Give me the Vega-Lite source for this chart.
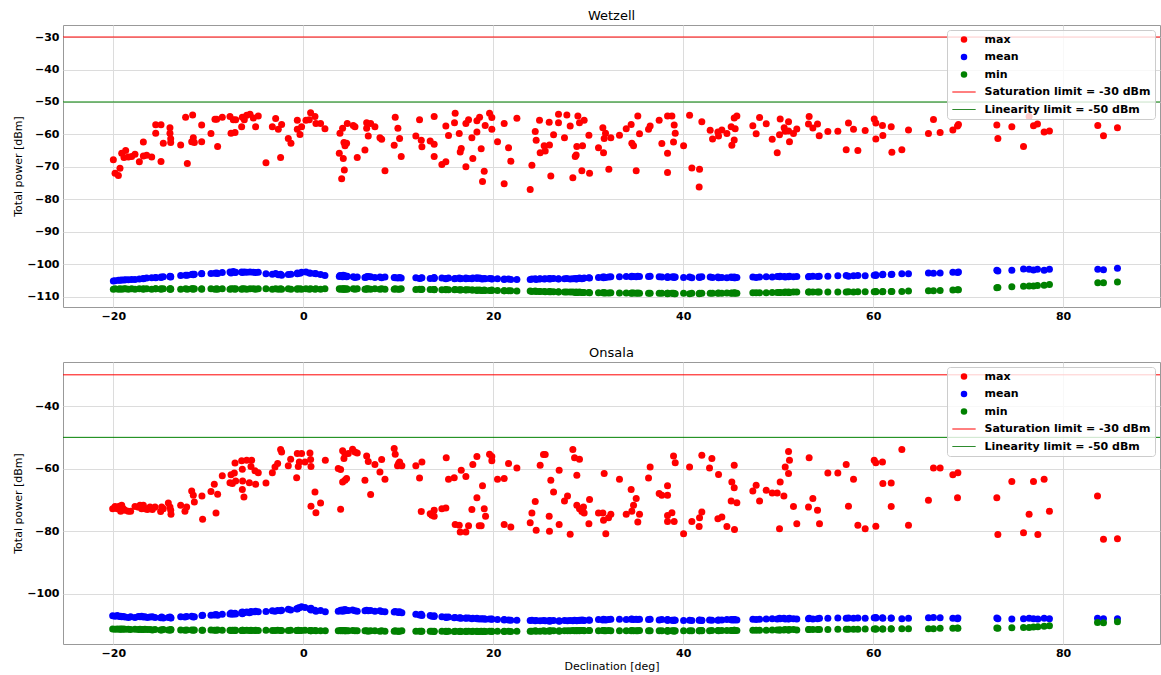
{
"$schema": "https://vega.github.io/schema/vega-lite/v6.json",
"background": "white",
"padding": {"left": 12, "top": 9, "right": 0, "bottom": 0},
"config": {
 "font": "DejaVu Sans",
 "view": {"stroke": "#999999", "strokeWidth": 1},
 "axis": {"labelFont": "DejaVu Sans", "labelFontSize": 11, "labelFontWeight": "bold", "labelColor": "black", "titleFont": "DejaVu Sans", "titleFontSize": 11, "titleFontWeight": "normal", "titleColor": "black", "gridColor": "#dcdcdc", "gridWidth": 1, "domain": false, "ticks": false, "labelPadding": 4, "labelOverlap": false},
 "title": {"font": "DejaVu Sans", "fontSize": 13, "fontWeight": "normal", "color": "black", "offset": 2},
 "legend": {"orient": "none", "legendX": 884, "legendY": 5, "fillColor": "rgba(255,255,255,0.8)", "strokeColor": "#cccccc", "cornerRadius": 3, "padding": 4, "labelFont": "DejaVu Sans", "labelFontSize": 11, "labelFontWeight": "bold", "labelColor": "black", "labelLimit": 400, "symbolSize": 42, "symbolStrokeWidth": 1, "symbolOffset": 7.5, "labelOffset": 15, "rowPadding": 5.5, "symbolOpacity": 1},
 "concat": {"spacing": 24}
},
"datasets": {
"limits": [{"series": "Saturation limit = -30 dBm", "value": -30}, {"series": "Linearity limit = -50 dBm", "value": -50}],
"wetzell": [
{"dec":-20.0,"max":-67.8,"mean":-105.1,"min":-107.6},
{"dec":-19.82,"max":-71.9,"mean":-105.0,"min":-107.5},
{"dec":-19.47,"max":-72.6,"mean":-104.9,"min":-107.6},
{"dec":-19.3,"max":-70.4,"mean":-104.9,"min":-107.5},
{"dec":-19.12,"max":-65.8,"mean":-104.8,"min":-107.6},
{"dec":-18.88,"max":-67.1,"mean":-104.8,"min":-107.5},
{"dec":-18.7,"max":-64.9,"mean":-104.7,"min":-107.5},
{"dec":-18.42,"max":-66.9,"mean":-104.7,"min":-107.6},
{"dec":-18.07,"max":-66.8,"mean":-104.6,"min":-107.5},
{"dec":-17.72,"max":-66.1,"mean":-104.6,"min":-107.6},
{"dec":-17.26,"max":-68.4,"mean":-104.5,"min":-107.5},
{"dec":-16.84,"max":-62.3,"mean":-104.3,"min":-107.6},
{"dec":-16.84,"max":-66.6,"mean":-104.4,"min":-107.5},
{"dec":-16.49,"max":-66.4,"mean":-104.2,"min":-107.5},
{"dec":-15.96,"max":-66.9,"mean":-104.1,"min":-107.6},
{"dec":-15.54,"max":-57.0,"mean":-104.0,"min":-107.5},
{"dec":-15.54,"max":-59.6,"mean":-104.1,"min":-107.5},
{"dec":-14.98,"max":-57.0,"mean":-103.9,"min":-107.6},
{"dec":-14.98,"max":-68.3,"mean":-104.0,"min":-107.5},
{"dec":-14.74,"max":-62.7,"mean":-103.8,"min":-107.5},
{"dec":-14.04,"max":-57.9,"mean":-103.8,"min":-107.6},
{"dec":-14.04,"max":-59.6,"mean":-103.6,"min":-107.5},
{"dec":-13.96,"max":-61.3,"mean":-103.7,"min":-107.6},
{"dec":-13.96,"max":-62.5,"mean":-103.9,"min":-107.5},
{"dec":-12.91,"max":-63.2,"mean":-103.4,"min":-107.6},
{"dec":-12.39,"max":-54.7,"mean":-103.3,"min":-107.5},
{"dec":-12.21,"max":-68.9,"mean":-103.3,"min":-107.6},
{"dec":-11.75,"max":-62.2,"mean":-103.1,"min":-107.5},
{"dec":-11.65,"max":-54.0,"mean":-103.0,"min":-107.5},
{"dec":-11.58,"max":-61.0,"mean":-103.2,"min":-107.6},
{"dec":-11.47,"max":-62.5,"mean":-103.0,"min":-107.5},
{"dec":-10.7,"max":-57.1,"mean":-102.9,"min":-107.6},
{"dec":-10.7,"max":-62.2,"mean":-102.8,"min":-107.5},
{"dec":-9.72,"max":-59.7,"mean":-102.8,"min":-107.5},
{"dec":-9.3,"max":-55.3,"mean":-102.7,"min":-107.6},
{"dec":-9.12,"max":-55.3,"mean":-102.6,"min":-107.5},
{"dec":-9.02,"max":-63.7,"mean":-102.8,"min":-107.6},
{"dec":-8.53,"max":-54.7,"mean":-102.5,"min":-107.5},
{"dec":-7.72,"max":-54.5,"mean":-102.3,"min":-107.6},
{"dec":-7.61,"max":-59.6,"mean":-102.6,"min":-107.5},
{"dec":-7.37,"max":-55.5,"mean":-102.2,"min":-107.5},
{"dec":-7.19,"max":-59.4,"mean":-102.5,"min":-107.6},
{"dec":-7.12,"max":-55.5,"mean":-102.4,"min":-107.5},
{"dec":-6.49,"max":-57.6,"mean":-102.3,"min":-107.6},
{"dec":-6.42,"max":-54.7,"mean":-102.5,"min":-107.5},
{"dec":-6.21,"max":-55.5,"mean":-102.3,"min":-107.5},
{"dec":-5.96,"max":-54.1,"mean":-102.4,"min":-107.6},
{"dec":-5.61,"max":-53.8,"mean":-102.3,"min":-107.5},
{"dec":-5.26,"max":-54.9,"mean":-102.4,"min":-107.5},
{"dec":-5.02,"max":-57.6,"mean":-102.5,"min":-107.6},
{"dec":-4.74,"max":-54.3,"mean":-102.4,"min":-107.5},
{"dec":-3.93,"max":-68.7,"mean":-102.9,"min":-107.5},
{"dec":-3.26,"max":-57.6,"mean":-103.0,"min":-107.6},
{"dec":-2.91,"max":-55.1,"mean":-102.8,"min":-107.5},
{"dec":-2.63,"max":-58.4,"mean":-103.2,"min":-107.6},
{"dec":-2.39,"max":-67.1,"mean":-103.0,"min":-107.5},
{"dec":-2.28,"max":-56.9,"mean":-103.3,"min":-107.6},
{"dec":-1.58,"max":-61.2,"mean":-103.1,"min":-107.5},
{"dec":-1.3,"max":-62.7,"mean":-103.0,"min":-107.6},
{"dec":-0.63,"max":-55.6,"mean":-102.9,"min":-107.5},
{"dec":-0.63,"max":-58.4,"mean":-102.6,"min":-107.6},
{"dec":-0.35,"max":-60.0,"mean":-102.7,"min":-107.5},
{"dec":-0.18,"max":-57.6,"mean":-102.4,"min":-107.6},
{"dec":0.28,"max":-55.6,"mean":-102.3,"min":-107.5},
{"dec":0.63,"max":-55.5,"mean":-102.6,"min":-107.6},
{"dec":0.77,"max":-53.3,"mean":-102.7,"min":-107.5},
{"dec":1.23,"max":-54.5,"mean":-102.8,"min":-107.6},
{"dec":1.33,"max":-56.6,"mean":-102.9,"min":-107.5},
{"dec":1.82,"max":-56.6,"mean":-103.1,"min":-107.6},
{"dec":2.28,"max":-58.2,"mean":-103.4,"min":-107.5},
{"dec":3.79,"max":-65.8,"mean":-103.7,"min":-107.5},
{"dec":3.86,"max":-59.6,"mean":-103.4,"min":-107.6},
{"dec":4.04,"max":-73.6,"mean":-103.5,"min":-107.5},
{"dec":4.14,"max":-58.1,"mean":-103.8,"min":-107.6},
{"dec":4.21,"max":-67.4,"mean":-103.3,"min":-107.5},
{"dec":4.28,"max":-62.5,"mean":-103.6,"min":-107.6},
{"dec":4.32,"max":-70.9,"mean":-103.7,"min":-107.5},
{"dec":4.39,"max":-63.5,"mean":-103.5,"min":-107.6},
{"dec":4.56,"max":-62.7,"mean":-103.8,"min":-107.5},
{"dec":4.63,"max":-56.6,"mean":-103.6,"min":-107.6},
{"dec":5.26,"max":-57.2,"mean":-103.8,"min":-107.5},
{"dec":5.44,"max":-57.6,"mean":-104.0,"min":-107.6},
{"dec":5.68,"max":-67.1,"mean":-103.9,"min":-107.5},
{"dec":6.49,"max":-64.8,"mean":-104.0,"min":-107.6},
{"dec":6.67,"max":-56.4,"mean":-103.8,"min":-107.5},
{"dec":6.67,"max":-58.1,"mean":-103.9,"min":-107.6},
{"dec":6.84,"max":-60.5,"mean":-103.7,"min":-107.5},
{"dec":7.09,"max":-56.6,"mean":-103.8,"min":-107.6},
{"dec":7.54,"max":-57.6,"mean":-104.0,"min":-107.5},
{"dec":8.07,"max":-61.0,"mean":-103.9,"min":-107.6},
{"dec":8.25,"max":-61.5,"mean":-104.1,"min":-107.5},
{"dec":8.6,"max":-71.2,"mean":-103.9,"min":-107.6},
{"dec":9.57,"max":-63.3,"mean":-104.0,"min":-107.6},
{"dec":9.68,"max":-54.7,"mean":-104.1,"min":-107.5},
{"dec":9.96,"max":-58.1,"mean":-104.2,"min":-107.6},
{"dec":10.14,"max":-61.2,"mean":-104.0,"min":-107.6},
{"dec":10.31,"max":-66.8,"mean":-104.2,"min":-107.5},
{"dec":11.85,"max":-60.5,"mean":-104.1,"min":-107.7},
{"dec":12.24,"max":-55.5,"mean":-104.3,"min":-107.6},
{"dec":12.42,"max":-61.8,"mean":-104.2,"min":-107.7},
{"dec":12.49,"max":-63.8,"mean":-104.1,"min":-107.6},
{"dec":13.36,"max":-62.0,"mean":-104.3,"min":-107.7},
{"dec":13.78,"max":-63.0,"mean":-104.2,"min":-107.7},
{"dec":13.78,"max":-54.5,"mean":-104.0,"min":-107.8},
{"dec":13.78,"max":-66.8,"mean":-104.3,"min":-107.7},
{"dec":14.59,"max":-69.2,"mean":-104.2,"min":-107.8},
{"dec":15.01,"max":-68.4,"mean":-104.4,"min":-107.7},
{"dec":15.01,"max":-57.4,"mean":-104.3,"min":-107.8},
{"dec":15.29,"max":-60.3,"mean":-104.2,"min":-107.8},
{"dec":15.99,"max":-53.5,"mean":-104.3,"min":-107.7},
{"dec":15.92,"max":-56.4,"mean":-104.4,"min":-107.8},
{"dec":16.42,"max":-59.7,"mean":-104.2,"min":-107.8},
{"dec":16.52,"max":-65.4,"mean":-104.4,"min":-107.9},
{"dec":16.63,"max":-64.3,"mean":-104.3,"min":-107.8},
{"dec":17.12,"max":-69.9,"mean":-104.4,"min":-107.8},
{"dec":17.12,"max":-56.6,"mean":-104.2,"min":-107.9},
{"dec":17.4,"max":-55.5,"mean":-104.3,"min":-107.8},
{"dec":17.75,"max":-61.0,"mean":-104.4,"min":-107.9},
{"dec":17.85,"max":-67.4,"mean":-104.2,"min":-107.9},
{"dec":18.28,"max":-55.8,"mean":-104.1,"min":-107.9},
{"dec":18.28,"max":-59.2,"mean":-104.3,"min":-108.0},
{"dec":18.56,"max":-54.7,"mean":-104.2,"min":-107.9},
{"dec":18.73,"max":-64.4,"mean":-104.4,"min":-108.0},
{"dec":19.05,"max":-71.3,"mean":-104.3,"min":-107.9},
{"dec":18.87,"max":-74.5,"mean":-104.5,"min":-108.0},
{"dec":19.15,"max":-57.2,"mean":-104.4,"min":-108.0},
{"dec":19.61,"max":-53.5,"mean":-104.3,"min":-108.0},
{"dec":19.85,"max":-54.8,"mean":-104.4,"min":-108.0},
{"dec":19.85,"max":-58.4,"mean":-104.5,"min":-107.9},
{"dec":20.45,"max":-62.2,"mean":-104.4,"min":-108.0},
{"dec":21.15,"max":-56.6,"mean":-104.5,"min":-108.1},
{"dec":21.15,"max":-75.2,"mean":-104.6,"min":-108.1},
{"dec":21.61,"max":-64.1,"mean":-104.5,"min":-108.1},
{"dec":21.85,"max":-68.2,"mean":-104.6,"min":-108.1},
{"dec":22.49,"max":-55.0,"mean":-104.6,"min":-108.2},
{"dec":23.89,"max":-76.9,"mean":-104.6,"min":-108.2},
{"dec":24.07,"max":-69.5,"mean":-104.5,"min":-108.3},
{"dec":24.42,"max":-59.1,"mean":-104.4,"min":-108.2},
{"dec":24.52,"max":-61.8,"mean":-104.6,"min":-108.3},
{"dec":24.87,"max":-55.6,"mean":-104.5,"min":-108.3},
{"dec":24.94,"max":-65.6,"mean":-104.4,"min":-108.3},
{"dec":25.36,"max":-63.5,"mean":-104.5,"min":-108.3},
{"dec":25.47,"max":-65.1,"mean":-104.4,"min":-108.4},
{"dec":25.89,"max":-56.2,"mean":-104.3,"min":-108.4},
{"dec":25.92,"max":-63.2,"mean":-104.5,"min":-108.3},
{"dec":26.06,"max":-72.8,"mean":-104.4,"min":-108.4},
{"dec":26.35,"max":-60.1,"mean":-104.3,"min":-108.4},
{"dec":26.87,"max":-53.8,"mean":-104.5,"min":-108.5},
{"dec":26.87,"max":-56.4,"mean":-104.4,"min":-108.4},
{"dec":27.5,"max":-61.0,"mean":-104.4,"min":-108.5},
{"dec":27.75,"max":-54.0,"mean":-104.3,"min":-108.5},
{"dec":28.1,"max":-57.4,"mean":-104.5,"min":-108.5},
{"dec":28.38,"max":-73.3,"mean":-104.4,"min":-108.5},
{"dec":28.63,"max":-66.8,"mean":-104.3,"min":-108.6},
{"dec":28.73,"max":-66.3,"mean":-104.5,"min":-108.5},
{"dec":28.8,"max":-63.7,"mean":-104.4,"min":-108.6},
{"dec":28.91,"max":-54.3,"mean":-104.3,"min":-108.6},
{"dec":29.08,"max":-56.4,"mean":-104.2,"min":-108.5},
{"dec":29.4,"max":-63.5,"mean":-104.3,"min":-108.6},
{"dec":29.33,"max":-71.2,"mean":-104.4,"min":-108.6},
{"dec":29.57,"max":-55.6,"mean":-104.2,"min":-108.6},
{"dec":30.07,"max":-60.2,"mean":-104.1,"min":-108.6},
{"dec":30.14,"max":-71.9,"mean":-104.2,"min":-108.7},
{"dec":31.08,"max":-64.1,"mean":-104.0,"min":-108.7},
{"dec":31.54,"max":-57.9,"mean":-103.9,"min":-108.7},
{"dec":31.61,"max":-65.6,"mean":-104.1,"min":-108.7},
{"dec":31.82,"max":-59.6,"mean":-104.0,"min":-108.8},
{"dec":31.68,"max":-61.2,"mean":-103.9,"min":-108.7},
{"dec":32.17,"max":-70.7,"mean":-103.9,"min":-108.8},
{"dec":32.38,"max":-61.0,"mean":-103.8,"min":-108.7},
{"dec":33.29,"max":-60.2,"mean":-103.8,"min":-108.8},
{"dec":34.0,"max":-58.2,"mean":-103.7,"min":-108.8},
{"dec":34.52,"max":-56.9,"mean":-103.8,"min":-108.9},
{"dec":34.59,"max":-62.7,"mean":-103.6,"min":-108.8},
{"dec":34.77,"max":-63.5,"mean":-103.7,"min":-108.8},
{"dec":35.05,"max":-71.2,"mean":-103.8,"min":-108.9},
{"dec":35.22,"max":-54.3,"mean":-103.6,"min":-108.8},
{"dec":35.4,"max":-59.8,"mean":-103.7,"min":-108.9},
{"dec":36.35,"max":-58.4,"mean":-103.7,"min":-108.9},
{"dec":36.52,"max":-57.4,"mean":-103.6,"min":-108.9},
{"dec":37.47,"max":-55.6,"mean":-103.8,"min":-108.9},
{"dec":37.75,"max":-62.8,"mean":-103.9,"min":-108.9},
{"dec":38.35,"max":-65.8,"mean":-103.8,"min":-109.0},
{"dec":38.35,"max":-54.3,"mean":-103.9,"min":-108.9},
{"dec":38.35,"max":-71.7,"mean":-104.0,"min":-108.9},
{"dec":38.81,"max":-54.3,"mean":-103.9,"min":-108.9},
{"dec":39.05,"max":-57.1,"mean":-104.0,"min":-109.0},
{"dec":38.98,"max":-62.3,"mean":-103.8,"min":-108.9},
{"dec":39.16,"max":-59.6,"mean":-103.9,"min":-109.0},
{"dec":40.04,"max":-63.5,"mean":-104.0,"min":-108.9},
{"dec":40.67,"max":-54.1,"mean":-103.9,"min":-109.0},
{"dec":40.91,"max":-70.3,"mean":-104.1,"min":-108.9},
{"dec":41.72,"max":-70.7,"mean":-104.0,"min":-108.9},
{"dec":41.68,"max":-76.2,"mean":-103.9,"min":-109.0},
{"dec":41.96,"max":-56.1,"mean":-103.8,"min":-108.9},
{"dec":42.84,"max":-58.7,"mean":-103.9,"min":-108.9},
{"dec":43.09,"max":-61.4,"mean":-104.0,"min":-108.9},
{"dec":43.65,"max":-59.2,"mean":-103.9,"min":-108.9},
{"dec":43.72,"max":-60.5,"mean":-104.1,"min":-108.8},
{"dec":44.07,"max":-58.6,"mean":-104.0,"min":-108.9},
{"dec":44.6,"max":-59.7,"mean":-104.1,"min":-108.8},
{"dec":45.05,"max":-57.6,"mean":-103.9,"min":-108.9},
{"dec":45.12,"max":-63.3,"mean":-104.0,"min":-108.8},
{"dec":45.37,"max":-54.9,"mean":-104.1,"min":-108.8},
{"dec":45.65,"max":-54.3,"mean":-104.0,"min":-108.9},
{"dec":45.37,"max":-61.7,"mean":-103.9,"min":-108.8},
{"dec":45.47,"max":-58.2,"mean":-104.1,"min":-108.8},
{"dec":47.33,"max":-57.3,"mean":-103.9,"min":-108.7},
{"dec":47.68,"max":-59.8,"mean":-104.0,"min":-108.7},
{"dec":48.04,"max":-54.8,"mean":-103.9,"min":-108.7},
{"dec":48.74,"max":-56.7,"mean":-103.8,"min":-108.7},
{"dec":49.37,"max":-61.5,"mean":-103.9,"min":-108.6},
{"dec":49.9,"max":-65.6,"mean":-103.7,"min":-108.6},
{"dec":50.14,"max":-60.1,"mean":-103.8,"min":-108.6},
{"dec":50.21,"max":-55.2,"mean":-103.6,"min":-108.6},
{"dec":50.63,"max":-57.9,"mean":-103.7,"min":-108.6},
{"dec":50.74,"max":-59.0,"mean":-103.9,"min":-108.5},
{"dec":51.09,"max":-56.1,"mean":-103.7,"min":-108.6},
{"dec":51.09,"max":-58.9,"mean":-103.8,"min":-108.5},
{"dec":51.19,"max":-62.2,"mean":-103.6,"min":-108.6},
{"dec":51.61,"max":-59.7,"mean":-103.8,"min":-108.5},
{"dec":51.96,"max":-58.3,"mean":-103.7,"min":-108.5},
{"dec":53.26,"max":-54.5,"mean":-103.7,"min":-108.5},
{"dec":53.19,"max":-56.8,"mean":-103.8,"min":-108.5},
{"dec":53.65,"max":-58.0,"mean":-103.6,"min":-108.5},
{"dec":54.14,"max":-56.8,"mean":-103.7,"min":-108.5},
{"dec":54.32,"max":-60.4,"mean":-103.6,"min":-108.5},
{"dec":55.23,"max":-59.1,"mean":-103.6,"min":-108.5},
{"dec":56.28,"max":-59.0,"mean":-103.5,"min":-108.5},
{"dec":57.16,"max":-64.7,"mean":-103.4,"min":-108.5},
{"dec":57.4,"max":-56.5,"mean":-103.6,"min":-108.4},
{"dec":57.93,"max":-58.4,"mean":-103.5,"min":-108.5},
{"dec":58.39,"max":-64.9,"mean":-103.4,"min":-108.4},
{"dec":59.16,"max":-58.8,"mean":-103.5,"min":-108.4},
{"dec":60.11,"max":-55.2,"mean":-103.3,"min":-108.4},
{"dec":60.28,"max":-56.5,"mean":-103.2,"min":-108.4},
{"dec":60.28,"max":-61.4,"mean":-103.4,"min":-108.3},
{"dec":60.98,"max":-57.2,"mean":-103.2,"min":-108.4},
{"dec":61.02,"max":-60.3,"mean":-103.0,"min":-108.3},
{"dec":61.9,"max":-57.6,"mean":-103.1,"min":-108.3},
{"dec":61.97,"max":-65.5,"mean":-103.0,"min":-108.3},
{"dec":63.02,"max":-64.7,"mean":-102.9,"min":-108.3},
{"dec":63.72,"max":-58.6,"mean":-102.9,"min":-108.2},
{"dec":65.82,"max":-59.7,"mean":-102.6,"min":-108.1},
{"dec":66.35,"max":-55.4,"mean":-102.7,"min":-108.1},
{"dec":67.05,"max":-59.4,"mean":-102.6,"min":-108.0},
{"dec":68.39,"max":-58.6,"mean":-102.4,"min":-107.9},
{"dec":68.88,"max":-57.4,"mean":-102.5,"min":-107.8},
{"dec":68.98,"max":-56.9,"mean":-102.3,"min":-107.8},
{"dec":73.02,"max":-57.1,"mean":-101.8,"min":-107.2},
{"dec":73.13,"max":-61.2,"mean":-102.0,"min":-107.1},
{"dec":74.6,"max":-57.6,"mean":-101.8,"min":-106.9},
{"dec":75.83,"max":-63.7,"mean":-101.4,"min":-106.7},
{"dec":76.42,"max":-54.5,"mean":-101.5,"min":-106.6},
{"dec":76.88,"max":-57.3,"mean":-101.7,"min":-106.6},
{"dec":77.3,"max":-56.8,"mean":-101.5,"min":-106.5},
{"dec":78.0,"max":-59.2,"mean":-101.8,"min":-106.4},
{"dec":78.56,"max":-58.9,"mean":-101.5,"min":-106.2},
{"dec":83.65,"max":-57.2,"mean":-101.5,"min":-105.6},
{"dec":84.25,"max":-60.4,"mean":-101.6,"min":-105.6},
{"dec":85.72,"max":-57.9,"mean":-101.2,"min":-105.4}
],
"onsala": [
{"dec":-20.07,"max":-72.8,"mean":-107.1,"min":-111.3},
{"dec":-19.82,"max":-72.1,"mean":-107.2,"min":-111.4},
{"dec":-19.58,"max":-72.8,"mean":-107.0,"min":-111.3},
{"dec":-19.37,"max":-72.0,"mean":-107.3,"min":-111.4},
{"dec":-19.23,"max":-73.6,"mean":-107.2,"min":-111.3},
{"dec":-19.12,"max":-71.7,"mean":-107.4,"min":-111.4},
{"dec":-18.95,"max":-72.8,"mean":-107.3,"min":-111.3},
{"dec":-18.77,"max":-73.3,"mean":-107.5,"min":-111.4},
{"dec":-18.42,"max":-73.6,"mean":-107.6,"min":-111.4},
{"dec":-18.18,"max":-73.6,"mean":-107.4,"min":-111.5},
{"dec":-17.72,"max":-72.1,"mean":-107.6,"min":-111.4},
{"dec":-17.37,"max":-72.3,"mean":-107.3,"min":-111.5},
{"dec":-17.19,"max":-71.7,"mean":-107.4,"min":-111.4},
{"dec":-17.02,"max":-72.8,"mean":-107.2,"min":-111.5},
{"dec":-16.84,"max":-71.7,"mean":-107.5,"min":-111.5},
{"dec":-16.67,"max":-72.8,"mean":-107.4,"min":-111.4},
{"dec":-16.42,"max":-73.1,"mean":-107.6,"min":-111.5},
{"dec":-16.14,"max":-72.3,"mean":-107.5,"min":-111.5},
{"dec":-15.89,"max":-73.1,"mean":-107.4,"min":-111.6},
{"dec":-15.61,"max":-72.3,"mean":-107.6,"min":-111.5},
{"dec":-15.02,"max":-73.7,"mean":-107.7,"min":-111.6},
{"dec":-14.91,"max":-72.3,"mean":-107.5,"min":-111.6},
{"dec":-14.74,"max":-72.8,"mean":-107.8,"min":-111.5},
{"dec":-14.21,"max":-71.0,"mean":-107.6,"min":-111.6},
{"dec":-14.04,"max":-72.3,"mean":-107.5,"min":-111.6},
{"dec":-13.93,"max":-74.6,"mean":-107.8,"min":-111.5},
{"dec":-13.96,"max":-73.3,"mean":-107.7,"min":-111.6},
{"dec":-12.91,"max":-71.7,"mean":-107.4,"min":-111.6},
{"dec":-12.46,"max":-73.6,"mean":-107.5,"min":-111.7},
{"dec":-12.28,"max":-72.3,"mean":-107.3,"min":-111.6},
{"dec":-11.75,"max":-67.2,"mean":-107.2,"min":-111.6},
{"dec":-11.58,"max":-68.5,"mean":-107.5,"min":-111.7},
{"dec":-11.47,"max":-70.7,"mean":-107.4,"min":-111.6},
{"dec":-10.67,"max":-68.8,"mean":-107.0,"min":-111.7},
{"dec":-10.6,"max":-76.2,"mean":-106.9,"min":-111.7},
{"dec":-9.72,"max":-67.3,"mean":-106.9,"min":-111.6},
{"dec":-9.37,"max":-65.0,"mean":-106.8,"min":-111.7},
{"dec":-9.19,"max":-74.2,"mean":-106.7,"min":-111.7},
{"dec":-9.02,"max":-68.2,"mean":-106.9,"min":-111.6},
{"dec":-8.53,"max":-62.3,"mean":-106.6,"min":-111.7},
{"dec":-7.72,"max":-64.5,"mean":-106.5,"min":-111.7},
{"dec":-7.61,"max":-62.0,"mean":-106.2,"min":-111.8},
{"dec":-7.47,"max":-64.8,"mean":-106.6,"min":-111.7},
{"dec":-7.26,"max":-61.4,"mean":-106.4,"min":-111.7},
{"dec":-7.19,"max":-58.2,"mean":-106.3,"min":-111.8},
{"dec":-7.12,"max":-64.0,"mean":-106.5,"min":-111.7},
{"dec":-6.49,"max":-57.5,"mean":-106.0,"min":-111.8},
{"dec":-6.39,"max":-64.0,"mean":-106.2,"min":-111.7},
{"dec":-6.42,"max":-60.2,"mean":-106.4,"min":-111.8},
{"dec":-6.42,"max":-66.7,"mean":-105.9,"min":-111.7},
{"dec":-6.25,"max":-69.1,"mean":-106.1,"min":-111.8},
{"dec":-5.96,"max":-57.3,"mean":-105.9,"min":-111.7},
{"dec":-5.68,"max":-64.5,"mean":-106.1,"min":-111.8},
{"dec":-5.51,"max":-59.3,"mean":-105.7,"min":-111.7},
{"dec":-5.44,"max":-57.3,"mean":-105.9,"min":-111.8},
{"dec":-5.09,"max":-60.7,"mean":-105.8,"min":-111.8},
{"dec":-5.02,"max":-65.0,"mean":-105.6,"min":-111.7},
{"dec":-4.74,"max":-61.3,"mean":-105.8,"min":-111.8},
{"dec":-3.93,"max":-64.6,"mean":-105.7,"min":-111.7},
{"dec":-3.26,"max":-61.3,"mean":-105.5,"min":-111.8},
{"dec":-2.98,"max":-59.5,"mean":-105.6,"min":-111.8},
{"dec":-2.7,"max":-58.4,"mean":-105.4,"min":-111.7},
{"dec":-2.39,"max":-53.9,"mean":-105.5,"min":-111.8},
{"dec":-2.28,"max":-54.7,"mean":-105.3,"min":-111.8},
{"dec":-1.58,"max":-59.1,"mean":-105.0,"min":-111.8},
{"dec":-1.33,"max":-57.0,"mean":-105.2,"min":-111.7},
{"dec":-0.7,"max":-62.9,"mean":-104.8,"min":-111.8},
{"dec":-0.63,"max":-55.2,"mean":-104.9,"min":-111.8},
{"dec":-0.53,"max":-59.3,"mean":-104.6,"min":-111.7},
{"dec":-0.42,"max":-57.9,"mean":-104.5,"min":-111.8},
{"dec":-0.18,"max":-55.2,"mean":-104.2,"min":-111.8},
{"dec":0.18,"max":-57.9,"mean":-104.4,"min":-111.7},
{"dec":0.7,"max":-55.0,"mean":-104.8,"min":-111.8},
{"dec":0.77,"max":-57.1,"mean":-105.0,"min":-111.9},
{"dec":0.81,"max":-59.3,"mean":-104.7,"min":-111.8},
{"dec":0.81,"max":-72.0,"mean":-105.2,"min":-111.9},
{"dec":1.23,"max":-67.5,"mean":-105.3,"min":-111.8},
{"dec":1.33,"max":-74.1,"mean":-105.6,"min":-111.9},
{"dec":1.82,"max":-71.0,"mean":-105.4,"min":-111.9},
{"dec":2.32,"max":-57.3,"mean":-105.8,"min":-111.9},
{"dec":3.68,"max":-60.0,"mean":-105.6,"min":-111.9},
{"dec":3.93,"max":-60.3,"mean":-105.3,"min":-111.8},
{"dec":3.93,"max":-73.0,"mean":-105.5,"min":-111.9},
{"dec":4.14,"max":-54.3,"mean":-105.2,"min":-111.9},
{"dec":4.28,"max":-56.8,"mean":-105.4,"min":-111.8},
{"dec":4.39,"max":-55.4,"mean":-105.1,"min":-111.9},
{"dec":4.56,"max":-63.2,"mean":-105.3,"min":-111.9},
{"dec":4.14,"max":-64.3,"mean":-105.6,"min":-111.8},
{"dec":4.39,"max":-63.7,"mean":-105.5,"min":-111.9},
{"dec":4.74,"max":-55.2,"mean":-105.4,"min":-111.9},
{"dec":5.19,"max":-53.8,"mean":-105.2,"min":-111.8},
{"dec":5.44,"max":-54.7,"mean":-105.5,"min":-111.9},
{"dec":5.68,"max":-55.0,"mean":-105.6,"min":-111.9},
{"dec":6.49,"max":-63.7,"mean":-105.5,"min":-111.9},
{"dec":6.67,"max":-56.0,"mean":-105.3,"min":-111.9},
{"dec":6.84,"max":-57.7,"mean":-105.5,"min":-112.0},
{"dec":7.09,"max":-68.3,"mean":-105.4,"min":-111.9},
{"dec":7.54,"max":-58.7,"mean":-105.6,"min":-111.9},
{"dec":8.07,"max":-61.1,"mean":-105.5,"min":-112.0},
{"dec":8.25,"max":-57.1,"mean":-105.7,"min":-111.9},
{"dec":8.6,"max":-63.4,"mean":-105.8,"min":-112.0},
{"dec":9.57,"max":-53.6,"mean":-105.9,"min":-112.0},
{"dec":9.68,"max":-55.4,"mean":-105.7,"min":-111.9},
{"dec":10.03,"max":-58.4,"mean":-106.0,"min":-112.0},
{"dec":10.14,"max":-57.9,"mean":-105.8,"min":-112.0},
{"dec":10.38,"max":-59.1,"mean":-106.1,"min":-111.9},
{"dec":9.92,"max":-59.1,"mean":-105.9,"min":-112.0},
{"dec":11.85,"max":-59.1,"mean":-106.6,"min":-112.0},
{"dec":12.24,"max":-63.0,"mean":-106.8,"min":-112.0},
{"dec":12.42,"max":-73.7,"mean":-106.6,"min":-112.0},
{"dec":12.49,"max":-57.9,"mean":-107.0,"min":-112.0},
{"dec":13.36,"max":-74.4,"mean":-107.0,"min":-112.0},
{"dec":13.54,"max":-74.9,"mean":-107.2,"min":-112.0},
{"dec":13.78,"max":-73.3,"mean":-107.1,"min":-112.1},
{"dec":13.78,"max":-75.2,"mean":-107.3,"min":-112.0},
{"dec":14.59,"max":-72.8,"mean":-107.4,"min":-112.0},
{"dec":15.01,"max":-72.6,"mean":-107.5,"min":-112.0},
{"dec":15.05,"max":-56.5,"mean":-107.6,"min":-112.1},
{"dec":15.29,"max":-63.4,"mean":-107.5,"min":-112.0},
{"dec":15.89,"max":-62.9,"mean":-107.7,"min":-112.1},
{"dec":15.99,"max":-77.9,"mean":-107.6,"min":-112.0},
{"dec":16.42,"max":-78.1,"mean":-107.8,"min":-112.1},
{"dec":16.52,"max":-80.3,"mean":-107.7,"min":-112.0},
{"dec":16.63,"max":-60.5,"mean":-107.9,"min":-112.1},
{"dec":17.12,"max":-62.5,"mean":-107.8,"min":-112.0},
{"dec":17.12,"max":-80.3,"mean":-107.9,"min":-112.1},
{"dec":17.4,"max":-78.3,"mean":-107.8,"min":-112.0},
{"dec":17.75,"max":-73.1,"mean":-108.0,"min":-112.1},
{"dec":17.85,"max":-58.7,"mean":-107.9,"min":-112.0},
{"dec":18.28,"max":-56.1,"mean":-108.0,"min":-112.1},
{"dec":18.28,"max":-69.3,"mean":-107.9,"min":-112.0},
{"dec":18.52,"max":-78.3,"mean":-108.1,"min":-112.1},
{"dec":18.73,"max":-78.3,"mean":-108.0,"min":-112.0},
{"dec":18.87,"max":-65.5,"mean":-108.1,"min":-112.1},
{"dec":19.05,"max":-72.8,"mean":-108.0,"min":-112.0},
{"dec":19.19,"max":-75.2,"mean":-108.2,"min":-112.1},
{"dec":19.61,"max":-55.4,"mean":-108.1,"min":-112.0},
{"dec":19.85,"max":-57.5,"mean":-108.2,"min":-112.1},
{"dec":19.85,"max":-56.1,"mean":-108.1,"min":-112.0},
{"dec":20.45,"max":-63.4,"mean":-108.3,"min":-112.0},
{"dec":21.15,"max":-63.2,"mean":-108.3,"min":-112.1},
{"dec":21.15,"max":-77.9,"mean":-108.4,"min":-112.0},
{"dec":21.61,"max":-58.4,"mean":-108.4,"min":-112.0},
{"dec":21.85,"max":-78.7,"mean":-108.5,"min":-112.1},
{"dec":22.49,"max":-59.8,"mean":-108.5,"min":-112.0},
{"dec":23.89,"max":-77.3,"mean":-108.6,"min":-112.0},
{"dec":24.07,"max":-74.2,"mean":-108.5,"min":-112.0},
{"dec":24.42,"max":-70.5,"mean":-108.7,"min":-111.9},
{"dec":24.52,"max":-79.7,"mean":-108.6,"min":-112.0},
{"dec":24.94,"max":-58.9,"mean":-108.7,"min":-112.0},
{"dec":25.29,"max":-55.5,"mean":-108.6,"min":-111.9},
{"dec":25.47,"max":-55.5,"mean":-108.7,"min":-112.0},
{"dec":25.89,"max":-75.2,"mean":-108.6,"min":-111.9},
{"dec":25.92,"max":-80.0,"mean":-108.8,"min":-112.0},
{"dec":26.06,"max":-63.7,"mean":-108.7,"min":-111.9},
{"dec":26.35,"max":-67.5,"mean":-108.6,"min":-111.9},
{"dec":26.94,"max":-60.5,"mean":-108.7,"min":-111.9},
{"dec":26.94,"max":-77.9,"mean":-108.8,"min":-112.0},
{"dec":27.5,"max":-70.4,"mean":-108.6,"min":-111.9},
{"dec":27.82,"max":-68.8,"mean":-108.7,"min":-111.9},
{"dec":28.1,"max":-81.0,"mean":-108.6,"min":-111.9},
{"dec":28.38,"max":-53.9,"mean":-108.7,"min":-111.8},
{"dec":28.56,"max":-56.5,"mean":-108.5,"min":-111.9},
{"dec":28.8,"max":-62.1,"mean":-108.6,"min":-111.8},
{"dec":28.8,"max":-71.7,"mean":-108.7,"min":-111.9},
{"dec":29.08,"max":-57.0,"mean":-108.5,"min":-111.8},
{"dec":29.08,"max":-72.8,"mean":-108.6,"min":-111.9},
{"dec":29.33,"max":-73.7,"mean":-108.4,"min":-111.8},
{"dec":29.5,"max":-72.3,"mean":-108.5,"min":-111.8},
{"dec":29.57,"max":-74.2,"mean":-108.6,"min":-111.9},
{"dec":30.07,"max":-77.6,"mean":-108.4,"min":-111.8},
{"dec":30.14,"max":-69.9,"mean":-108.5,"min":-111.8},
{"dec":31.08,"max":-74.2,"mean":-108.3,"min":-111.9},
{"dec":31.54,"max":-74.2,"mean":-108.4,"min":-111.8},
{"dec":31.68,"max":-61.6,"mean":-108.3,"min":-111.9},
{"dec":31.61,"max":-76.5,"mean":-108.2,"min":-111.8},
{"dec":31.85,"max":-80.8,"mean":-108.4,"min":-111.9},
{"dec":32.14,"max":-75.7,"mean":-108.3,"min":-111.8},
{"dec":32.38,"max":-74.6,"mean":-108.2,"min":-111.9},
{"dec":33.29,"max":-63.4,"mean":-108.2,"min":-111.9},
{"dec":34.0,"max":-74.6,"mean":-108.3,"min":-111.9},
{"dec":34.52,"max":-66.7,"mean":-108.2,"min":-111.9},
{"dec":34.59,"max":-73.6,"mean":-108.1,"min":-111.8},
{"dec":34.77,"max":-71.7,"mean":-108.3,"min":-111.9},
{"dec":35.05,"max":-69.6,"mean":-108.2,"min":-111.9},
{"dec":35.22,"max":-77.1,"mean":-108.3,"min":-111.9},
{"dec":35.4,"max":-74.6,"mean":-108.2,"min":-111.8},
{"dec":36.35,"max":-63.0,"mean":-108.3,"min":-111.9},
{"dec":36.52,"max":-59.5,"mean":-108.2,"min":-111.9},
{"dec":37.47,"max":-68.0,"mean":-108.4,"min":-111.9},
{"dec":37.75,"max":-68.5,"mean":-108.3,"min":-111.9},
{"dec":38.35,"max":-65.5,"mean":-108.4,"min":-111.9},
{"dec":38.35,"max":-68.5,"mean":-108.5,"min":-111.9},
{"dec":38.35,"max":-75.0,"mean":-108.3,"min":-112.0},
{"dec":38.35,"max":-76.9,"mean":-108.4,"min":-111.9},
{"dec":38.81,"max":-74.1,"mean":-108.5,"min":-111.9},
{"dec":39.05,"max":-76.9,"mean":-108.4,"min":-112.0},
{"dec":38.98,"max":-56.0,"mean":-108.6,"min":-111.9},
{"dec":39.16,"max":-58.1,"mean":-108.5,"min":-111.9},
{"dec":40.04,"max":-80.8,"mean":-108.6,"min":-111.9},
{"dec":40.67,"max":-59.5,"mean":-108.5,"min":-111.9},
{"dec":40.91,"max":-76.9,"mean":-108.6,"min":-111.9},
{"dec":41.68,"max":-78.5,"mean":-108.5,"min":-111.9},
{"dec":41.72,"max":-75.7,"mean":-108.4,"min":-111.9},
{"dec":41.96,"max":-73.9,"mean":-108.6,"min":-111.8},
{"dec":41.96,"max":-55.7,"mean":-108.5,"min":-111.9},
{"dec":42.77,"max":-59.8,"mean":-108.4,"min":-111.9},
{"dec":43.02,"max":-56.8,"mean":-108.5,"min":-111.8},
{"dec":43.72,"max":-61.9,"mean":-108.4,"min":-111.9},
{"dec":43.65,"max":-76.0,"mean":-108.5,"min":-111.8},
{"dec":44.07,"max":-75.5,"mean":-108.4,"min":-111.8},
{"dec":44.6,"max":-78.5,"mean":-108.3,"min":-111.8},
{"dec":45.12,"max":-64.3,"mean":-108.4,"min":-111.8},
{"dec":45.37,"max":-66.1,"mean":-108.3,"min":-111.8},
{"dec":45.37,"max":-58.9,"mean":-108.4,"min":-111.7},
{"dec":45.05,"max":-70.4,"mean":-108.3,"min":-111.8},
{"dec":45.65,"max":-70.9,"mean":-108.4,"min":-111.8},
{"dec":45.4,"max":-79.5,"mean":-108.3,"min":-111.7},
{"dec":47.33,"max":-67.2,"mean":-108.2,"min":-111.7},
{"dec":47.68,"max":-65.3,"mean":-108.3,"min":-111.7},
{"dec":48.04,"max":-70.4,"mean":-108.2,"min":-111.7},
{"dec":48.74,"max":-66.9,"mean":-108.1,"min":-111.7},
{"dec":49.37,"max":-67.8,"mean":-108.0,"min":-111.6},
{"dec":49.9,"max":-67.8,"mean":-108.1,"min":-111.6},
{"dec":50.14,"max":-79.2,"mean":-107.9,"min":-111.6},
{"dec":50.21,"max":-64.3,"mean":-108.0,"min":-111.6},
{"dec":50.6,"max":-68.8,"mean":-107.9,"min":-111.6},
{"dec":50.74,"max":-59.5,"mean":-108.1,"min":-111.5},
{"dec":51.09,"max":-54.5,"mean":-108.0,"min":-111.6},
{"dec":51.19,"max":-57.3,"mean":-107.9,"min":-111.5},
{"dec":51.09,"max":-61.6,"mean":-108.1,"min":-111.6},
{"dec":51.61,"max":-72.1,"mean":-108.0,"min":-111.5},
{"dec":51.96,"max":-77.6,"mean":-108.1,"min":-111.6},
{"dec":53.19,"max":-72.3,"mean":-108.0,"min":-111.5},
{"dec":53.26,"max":-56.5,"mean":-107.9,"min":-111.5},
{"dec":53.65,"max":-69.6,"mean":-108.1,"min":-111.5},
{"dec":54.14,"max":-73.3,"mean":-108.0,"min":-111.5},
{"dec":54.35,"max":-77.6,"mean":-107.9,"min":-111.5},
{"dec":55.23,"max":-61.4,"mean":-107.9,"min":-111.5},
{"dec":56.28,"max":-61.4,"mean":-107.8,"min":-111.4},
{"dec":57.16,"max":-58.7,"mean":-107.9,"min":-111.4},
{"dec":57.4,"max":-72.0,"mean":-107.8,"min":-111.4},
{"dec":57.93,"max":-63.4,"mean":-107.9,"min":-111.4},
{"dec":58.39,"max":-78.1,"mean":-107.8,"min":-111.4},
{"dec":59.16,"max":-79.2,"mean":-107.9,"min":-111.3},
{"dec":60.11,"max":-57.3,"mean":-107.7,"min":-111.3},
{"dec":60.28,"max":-58.1,"mean":-107.6,"min":-111.3},
{"dec":60.28,"max":-78.4,"mean":-107.8,"min":-111.3},
{"dec":60.98,"max":-57.9,"mean":-107.7,"min":-111.3},
{"dec":61.02,"max":-64.8,"mean":-107.9,"min":-111.3},
{"dec":61.9,"max":-64.6,"mean":-107.8,"min":-111.2},
{"dec":61.9,"max":-72.1,"mean":-107.9,"min":-111.3},
{"dec":63.02,"max":-53.9,"mean":-108.0,"min":-111.2},
{"dec":63.72,"max":-78.1,"mean":-107.9,"min":-111.2},
{"dec":65.82,"max":-70.1,"mean":-107.7,"min":-111.2},
{"dec":66.35,"max":-59.8,"mean":-107.6,"min":-111.2},
{"dec":67.05,"max":-59.8,"mean":-107.7,"min":-111.1},
{"dec":68.39,"max":-62.0,"mean":-107.9,"min":-111.1},
{"dec":68.92,"max":-61.3,"mean":-107.8,"min":-111.1},
{"dec":68.88,"max":-69.3,"mean":-108.0,"min":-111.0},
{"dec":73.02,"max":-69.3,"mean":-107.8,"min":-111.0},
{"dec":73.13,"max":-81.1,"mean":-108.0,"min":-111.1},
{"dec":74.6,"max":-64.1,"mean":-108.1,"min":-110.9},
{"dec":75.83,"max":-80.5,"mean":-108.0,"min":-110.8},
{"dec":76.42,"max":-74.6,"mean":-107.9,"min":-110.8},
{"dec":76.88,"max":-64.1,"mean":-108.0,"min":-110.7},
{"dec":77.34,"max":-81.1,"mean":-108.1,"min":-110.6},
{"dec":78.0,"max":-63.4,"mean":-107.9,"min":-110.4},
{"dec":78.56,"max":-73.6,"mean":-108.0,"min":-110.3},
{"dec":83.62,"max":-68.8,"mean":-107.9,"min":-109.2},
{"dec":84.25,"max":-82.6,"mean":-108.0,"min":-109.3},
{"dec":85.72,"max":-82.4,"mean":-108.0,"min":-109.0}
]
},
"vconcat": [
{
 "title": "Wetzell",
 "width": 1097,
 "height": 282,
 "encoding": {
  "y": {"field": "value", "type": "quantitative", "scale": {"domain": [-113.1, -26.3], "nice": false, "zero": false}, "axis": {"values": [-30,-40,-50,-60,-70,-80,-90,-100,-110], "labelOverlap": false, "title": "Total power [dBm]", "titlePadding": 3, "format": "d"}}
 },
 "layer": [
  {
   "data": {"name": "limits"},
   "mark": {"type": "rule", "strokeWidth": 1},
   "encoding": {
    "stroke": {"field": "series", "type": "nominal", "scale": {"domain": ["Saturation limit = -30 dBm","Linearity limit = -50 dBm"], "range": ["#ff0000","#008000"]}, "legend": null}
   }
  },
  {
   "data": {"name": "wetzell"},
   "transform": [{"fold": ["max","mean","min"], "as": ["series","value"]}],
   "mark": {"type": "point", "filled": true, "size": 49, "opacity": 1},
   "encoding": {
    "x": {"field": "dec", "type": "quantitative", "scale": {"domain": [-25.3, 90.2], "nice": false, "zero": false}, "axis": {"values": [-20,0,20,40,60,80], "title": null, "format": "d", "labelPadding": 3}},
    "fill": {"field": "series", "type": "nominal", "scale": {"domain": ["max","mean","min","Saturation limit = -30 dBm","Linearity limit = -50 dBm"], "range": ["#ff0000","#0000ff","#008000","#ff0000","#008000"]},
     "legend": {"title": null, "encode": {"symbols": {"update": {
       "shape": {"signal": "indexof(['max','mean','min'], datum.value) >= 0 ? 'circle' : 'M-3.6,0H3.6'"},
       "stroke": {"signal": "datum.value == 'Saturation limit = -30 dBm' ? '#ff0000' : datum.value == 'Linearity limit = -50 dBm' ? '#2e8b2e' : 'transparent'"},
       "strokeWidth": {"value": 1}}}}}}
   }
  }
 ]
},
{
 "title": "Onsala",
 "width": 1097,
 "height": 282,
 "encoding": {
  "y": {"field": "value", "type": "quantitative", "scale": {"domain": [-116.1, -25.9], "nice": false, "zero": false}, "axis": {"values": [-40,-60,-80,-100], "labelOverlap": false, "title": "Total power [dBm]", "titlePadding": 3, "format": "d"}}
 },
 "layer": [
  {
   "data": {"name": "limits"},
   "mark": {"type": "rule", "strokeWidth": 1},
   "encoding": {
    "stroke": {"field": "series", "type": "nominal", "scale": {"domain": ["Saturation limit = -30 dBm","Linearity limit = -50 dBm"], "range": ["#ff0000","#008000"]}, "legend": null}
   }
  },
  {
   "data": {"name": "onsala"},
   "transform": [{"fold": ["max","mean","min"], "as": ["series","value"]}],
   "mark": {"type": "point", "filled": true, "size": 49, "opacity": 1},
   "encoding": {
    "x": {"field": "dec", "type": "quantitative", "scale": {"domain": [-25.3, 90.2], "nice": false, "zero": false}, "axis": {"values": [-20,0,20,40,60,80], "title": "Declination [deg]", "titlePadding": 2, "format": "d", "labelPadding": 3}},
    "fill": {"field": "series", "type": "nominal", "scale": {"domain": ["max","mean","min","Saturation limit = -30 dBm","Linearity limit = -50 dBm"], "range": ["#ff0000","#0000ff","#008000","#ff0000","#008000"]},
     "legend": {"title": null, "encode": {"symbols": {"update": {
       "shape": {"signal": "indexof(['max','mean','min'], datum.value) >= 0 ? 'circle' : 'M-3.6,0H3.6'"},
       "stroke": {"signal": "datum.value == 'Saturation limit = -30 dBm' ? '#ff0000' : datum.value == 'Linearity limit = -50 dBm' ? '#2e8b2e' : 'transparent'"},
       "strokeWidth": {"value": 1}}}}}}
   }
  }
 ]
}
],
"resolve": {"scale": {"x": "independent", "y": "independent", "fill": "independent", "stroke": "independent"}, "legend": {"fill": "independent"}}
}
